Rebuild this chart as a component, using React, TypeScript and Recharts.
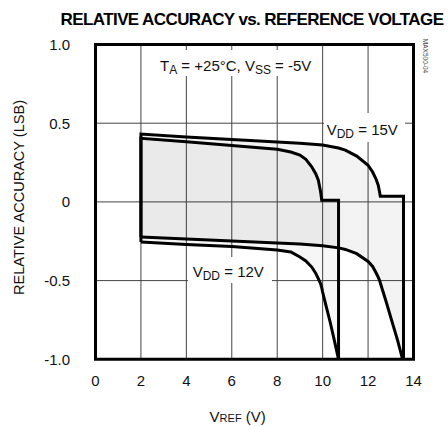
import React from "react";
import {
  ComposedChart,
  Area,
  Line,
  XAxis,
  YAxis,
  CartesianGrid,
  ReferenceArea,
} from "recharts";

// ---- data ----
const xTicks = [0, 2, 4, 6, 8, 10, 12, 14];
const yTicks = [-1, -0.5, 0, 0.5, 1];
const yTickLabels = ["-1.0", "-0.5", "0", "0.5", "1.0"];

// VDD = 15V envelope
const vdd15X = [2, 4, 6, 8, 9, 10, 10.7, 11, 11.5, 12, 12.2, 12.35, 12.45, 12.51, 12.54, 12.8, 13.1, 13.3, 13.52, 13.56, 13.56];
const vdd15Upper = [0.431, 0.413, 0.396, 0.38, 0.372, 0.361, 0.342, 0.329, 0.291, 0.233, 0.19, 0.145, 0.105, 0.06, 0.036, 0.036, 0.036, 0.036, 0.036, 0.036, -1];
const vdd15Lower = [-0.223, -0.235, -0.248, -0.261, -0.268, -0.279, -0.292, -0.302, -0.329, -0.378, -0.41, -0.45, -0.48, -0.5, -0.515, -0.636, -0.783, -0.88, -1, -1, -1];

// VDD = 12V envelope
const vdd12X = [2, 4, 6, 8, 8.6, 9, 9.26, 9.52, 9.7, 9.81, 9.91, 9.96, 10.0, 10.15, 10.33, 10.5, 10.7, 10.7];
const vdd12Upper = [0.404, 0.382, 0.359, 0.334, 0.317, 0.297, 0.27, 0.223, 0.178, 0.138, 0.064, 0.011, 0.011, 0.011, 0.011, 0.011, 0.011, -1];
const vdd12Lower = [-0.255, -0.27, -0.283, -0.305, -0.318, -0.35, -0.375, -0.414, -0.455, -0.488, -0.52, -0.545, -0.573, -0.66, -0.763, -0.87, -1, -1];

const band = (xs: number[], hi: number[], lo: number[]) =>
  xs.map((x, i) => ({ x, band: [lo[i], hi[i]] }));
const upperOutline = (xs: number[], hi: number[], lo: number[]) => [
  { x: xs[0], y: lo[0] },
  ...xs.map((x, i) => ({ x, y: hi[i] })),
];
const lowerLine = (xs: number[], lo: number[]) => xs.map((x, i) => ({ x, y: lo[i] }));

const band15 = band(vdd15X, vdd15Upper, vdd15Lower);
const band12 = band(vdd12X, vdd12Upper, vdd12Lower);
const up15 = upperOutline(vdd15X, vdd15Upper, vdd15Lower);
const up12 = upperOutline(vdd12X, vdd12Upper, vdd12Lower);
const lo15 = lowerLine(vdd15X, vdd15Lower);
const lo12 = lowerLine(vdd12X, vdd12Lower);

const FONT = "'Liberation Sans', Arial, Helvetica, sans-serif";
const TXT = "#111";

export default function App() {
  return (
    <div style={{ position: "absolute", left: 0, top: 0, width: 448, height: 426, background: "#fff" }}>
      <ComposedChart
        width={448}
        height={426}
        margin={{ top: 44.5, right: 34.5, left: 35.5, bottom: 36.7 }}
      >
        <CartesianGrid stroke="#444" strokeWidth={1} />
        <XAxis
          type="number"
          dataKey="x"
          domain={[0, 14]}
          ticks={xTicks}
          interval={0}
          allowDataOverflow
          axisLine={false}
          tickLine={false}
          tickSize={0}
          tickMargin={16}
          height={30}
          tick={{ fill: TXT, fontSize: 15, fontFamily: FONT }}
        />
        <YAxis
          type="number"
          domain={[-1, 1]}
          ticks={yTicks}
          interval={0}
          allowDataOverflow
          axisLine={false}
          tickLine={false}
          tickSize={0}
          tickMargin={25.5}
          width={60}
          tickFormatter={(v: number) => yTickLabels[yTicks.indexOf(v)] ?? String(v)}
          tick={{ fill: TXT, fontSize: 15, fontFamily: FONT }}
        />
        <Area
          data={band15}
          dataKey="band"
          type="linear"
          stroke="none"
          fill="#000"
          fillOpacity={0.047}
          isAnimationActive={false}
        />
        <Area
          data={band12}
          dataKey="band"
          type="linear"
          stroke="none"
          fill="#000"
          fillOpacity={0.035}
          isAnimationActive={false}
        />
        <Line data={up15} dataKey="y" type="linear" stroke="#000" strokeWidth={3} dot={false} isAnimationActive={false} />
        <Line data={lo15} dataKey="y" type="linear" stroke="#000" strokeWidth={3} dot={false} isAnimationActive={false} />
        <Line data={up12} dataKey="y" type="linear" stroke="#000" strokeWidth={3} dot={false} isAnimationActive={false} />
        <Line data={lo12} dataKey="y" type="linear" stroke="#000" strokeWidth={3} dot={false} isAnimationActive={false} />
        <ReferenceArea x1={0} x2={14} y1={-1} y2={1} fill="none" fillOpacity={0} stroke="#000" strokeWidth={3} />
      </ComposedChart>
      <svg
        width={448}
        height={426}
        style={{ position: "absolute", left: 0, top: 0, pointerEvents: "none", whiteSpace: "pre" }}
      >
        <text
          x={252}
          y={25}
          textAnchor="middle"
          fontFamily={FONT}
          fontWeight="bold"
          fontSize={17}
          letterSpacing={-0.6}
          fill="#000"
        >
          RELATIVE ACCURACY vs. REFERENCE VOLTAGE
        </text>

        <rect x={150} y={50} width={170} height={26} fill="#fff" />
        <text x={160} y={71} fontFamily={FONT} fontSize={15} fill={TXT}>
          T<tspan fontSize={12} dy={3}>A</tspan>
          <tspan dy={-3}>{" = +25°C, V"}</tspan>
          <tspan fontSize={12} dy={3}>SS</tspan>
          <tspan dy={-3}>{" = -5V"}</tspan>
        </text>

        <rect x={324} y={113} width={81} height={29} fill="#fff" />
        <text x={326.7} y={135} fontFamily={FONT} fontSize={15} fill={TXT}>
          V<tspan fontSize={12} dy={3}>DD</tspan>
          <tspan dy={-3}>{" = 15V"}</tspan>
        </text>

        <rect x={188} y={257} width={84} height={26} fill="#fff" />
        <text x={192.7} y={276.7} fontFamily={FONT} fontSize={15} fill={TXT}>
          V<tspan fontSize={12} dy={3}>DD</tspan>
          <tspan dy={-3}>{" = 12V"}</tspan>
        </text>

        <text
          x={24}
          y={197.5}
          transform="rotate(-90, 24, 197.5)"
          textAnchor="middle"
          fontFamily={FONT}
          fontSize={15}
          textLength={195}
          lengthAdjust="spacingAndGlyphs"
          fill={TXT}
        >
          RELATIVE ACCURACY (LSB)
        </text>

        <text x={237.7} y={421.5} textAnchor="middle" fontFamily={FONT} fontSize={15} fill={TXT}>
          V<tspan fontSize={11}>REF</tspan>
          <tspan>{" (V)"}</tspan>
        </text>

        <text
          x={423}
          y={56}
          transform="rotate(90, 423, 56)"
          textAnchor="middle"
          fontFamily={FONT}
          fontSize={6.5}
          fill="#444"
        >
          MAX500-04
        </text>
      </svg>
    </div>
  );
}
